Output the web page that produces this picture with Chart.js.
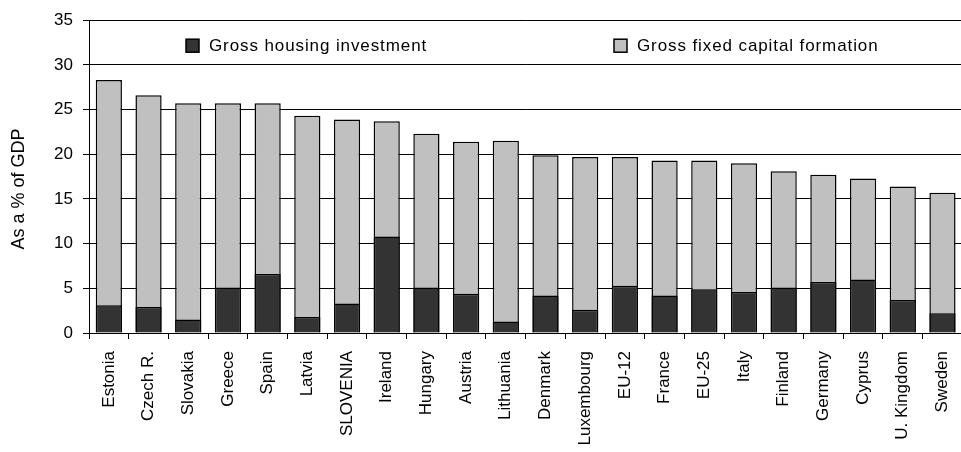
<!DOCTYPE html>
<html>
<head>
<meta charset="utf-8">
<script src="https://cdn.jsdelivr.net/npm/chart.js@4"></script>
<style>
  html, body { margin: 0; padding: 0; background: #fff; overflow: hidden; }
  #wrap { width: 975px; height: 452px; position: relative; }
</style>
</head>
<body>
<div id="wrap"><canvas id="grafico"></canvas></div>
<script>
const categorias = ["Estonia", "Czech R.", "Slovakia", "Greece", "Spain", "Latvia", "SLOVENIA", "Ireland",
  "Hungary", "Austria", "Lithuania", "Denmark", "Luxembourg", "EU-12", "France", "EU-25", "Italy",
  "Finland", "Germany", "Cyprus", "U. Kingdom", "Sweden"];

const vivienda = [3.1, 2.9, 1.5, 5.1, 6.6, 1.8, 3.3, 10.8, 5.1, 4.4, 1.3, 4.2, 2.6, 5.3, 4.2, 4.9, 4.6,
  5.1, 5.7, 6.0, 3.7, 2.2];

const formacionCapital = [28.3, 26.6, 25.7, 25.7, 25.7, 24.3, 23.9, 23.7, 22.3, 21.4, 21.5, 19.9, 19.7,
  19.7, 19.3, 19.3, 19.0, 18.1, 17.7, 17.3, 16.4, 15.7];

const ticksY = [0, 5, 10, 15, 20, 25, 30, 35];

Chart.defaults.font.family = "'Liberation Sans', Arial, sans-serif";
Chart.defaults.font.size = 17;
Chart.defaults.color = "#000";

// leyenda dibujada dentro del area del grafico
const leyendaInterna = {
  id: "leyendaInterna",
  afterDraw(chart) {
    const ctx = chart.ctx;
    const area = chart.chartArea;
    const items = [
      {ds: chart.data.datasets[0], x: area.left + 97},
      {ds: chart.data.datasets[1], x: area.left + 525},
    ];
    ctx.save();
    ctx.font = "17px 'Liberation Sans', Arial, sans-serif";
    ctx.letterSpacing = "0.9px";
    ctx.textBaseline = "middle";
    items.forEach(it => {
      const y = area.top + 19;
      ctx.fillStyle = it.ds.backgroundColor;
      ctx.fillRect(it.x, y, 13, 13);
      ctx.lineWidth = 1.5;
      ctx.strokeStyle = "#000";
      ctx.strokeRect(it.x, y, 13, 13);
      ctx.fillStyle = "#000";
      ctx.fillText(it.ds.label, it.x + 23, y + 7);
    });
    ctx.restore();
  }
};

const data = {
  labels: categorias,
  datasets: [
    {
      label: "Gross housing investment",
      data: vivienda,
      backgroundColor: "#333333",
      borderColor: "#000",
      borderWidth: 1.5,
      order: 0,
    },
    {
      label: "Gross fixed capital formation",
      data: formacionCapital,
      backgroundColor: "#c0c0c0",
      borderColor: "#000",
      borderWidth: 1.5,
      order: 1,
    },
  ],
};

const config = {
  type: "bar",
  data: data,
  options: {
    responsive: true,
    maintainAspectRatio: false,
    animation: false,
    layout: {padding: {top: 17, right: 6, left: 0, bottom: 0}},
    datasets: {
      bar: {grouped: false, categoryPercentage: 1, barPercentage: 0.66}
    },
    plugins: {
      legend: {display: false},
      tooltip: {enabled: false},
    },
    scales: {
      x: {
        grid: {
          display: true,
          drawOnChartArea: false,
          drawTicks: true,
          tickLength: 6,
          color: "#000",
          offset: true,
        },
        border: {display: true, color: "#000", width: 1},
        ticks: {
          maxRotation: 90,
          minRotation: 90,
          autoSkip: false,
          padding: 12,
        },
        afterFit: s => { s.height = 119; },
      },
      y: {
        min: 0,
        max: 35,
        afterBuildTicks: s => { s.ticks = ticksY.map(v => ({value: v})); },
        grid: {color: "#000", lineWidth: 1, tickLength: 6},
        border: {display: true, color: "#000", width: 1},
        ticks: {padding: 10},
        title: {
          display: true,
          text: "As a % of GDP     ",
          font: {size: 18},
          padding: {top: 8, bottom: 0},
        },
        afterFit: s => { s.width = 89; },
      },
    },
  },
  plugins: [leyendaInterna],
};

new Chart(document.getElementById("grafico"), config);
</script>
</body>
</html>
